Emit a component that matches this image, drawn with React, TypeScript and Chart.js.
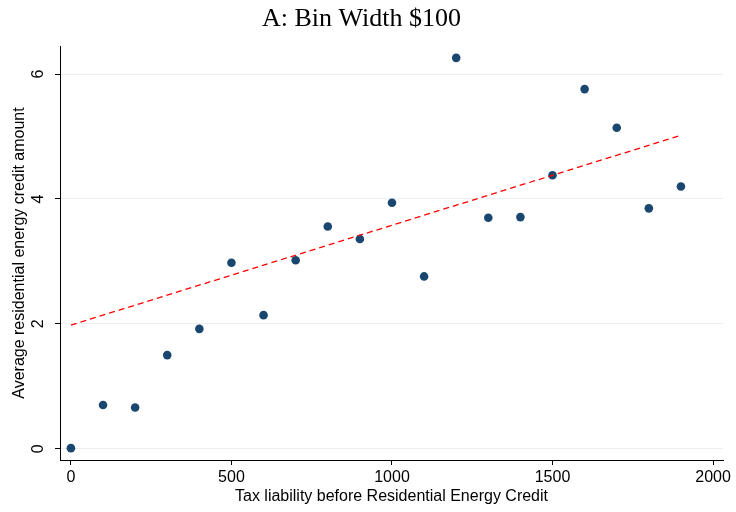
import React, { useEffect, useRef } from "react";
import { Chart, registerables } from "chart.js";

Chart.register(...registerables);

const binX = [0, 100, 200, 300, 400, 500, 600, 700, 800, 900, 1000, 1100, 1200, 1300, 1400, 1500, 1600, 1700, 1800, 1900];
const avgCredit = [0.01, 0.7, 0.66, 1.5, 1.92, 2.98, 2.14, 3.02, 3.56, 3.36, 3.94, 2.76, 6.26, 3.7, 3.71, 4.38, 5.76, 5.14, 3.85, 4.2];
const fitX = [0, 1900];
const fitY = [1.98, 5.02];
const xTicks = [0, 500, 1000, 1500, 2000];
const yTicks = [0, 2, 4, 6];

const titleText = "A: Bin Width $100";
const xTitle = "Tax liability before Residential Energy Credit";
const yTitle = "Average residential energy credit amount";

const rotatedYTicks = {
  id: "rotatedYTicks",
  afterDraw(chart: any) {
    const ys = chart.scales.y;
    const ctx = chart.ctx;
    ctx.save();
    ctx.fillStyle = "#000";
    ctx.font = '16px "Liberation Sans", Arial, sans-serif';
    ctx.textAlign = "center";
    ctx.textBaseline = "middle";
    for (const t of ys.ticks) {
      const py = ys.getPixelForValue(t.value);
      ctx.save();
      ctx.translate(39, py);
      ctx.rotate(-Math.PI / 2);
      ctx.fillText(String(t.value), 0, 0);
      ctx.restore();
    }
    ctx.restore();
  },
};

export default function App() {
  const ref = useRef<HTMLCanvasElement | null>(null);
  useEffect(() => {
    if (!ref.current) return;
    const chart = new Chart(ref.current, {
      type: "scatter",
      data: {
        datasets: [
          {
            type: "line",
            data: fitX.map((x, i) => ({ x, y: fitY[i] })),
            borderColor: "#ff0000",
            borderWidth: 1.3,
            borderDash: [6, 4],
            pointRadius: 0,
            fill: false,
          } as any,
          {
            data: binX.map((x, i) => ({ x, y: avgCredit[i] })),
            backgroundColor: "#1a476f",
            borderColor: "#1a476f",
            pointRadius: 4.3,
            borderWidth: 0,
          },
        ],
      },
      options: {
        animation: false,
        responsive: true,
        maintainAspectRatio: false,
        layout: { padding: { right: 13, left: 0, top: 0, bottom: 0 } },
        plugins: {
          legend: { display: false },
          tooltip: { enabled: false },
          title: {
            display: true,
            text: titleText,
            color: "#000",
            font: { family: '"Liberation Serif", "Times New Roman", serif', size: 26, weight: "normal" as any, lineHeight: 1.0 },
            padding: { top: 6, bottom: 14 },
          },
        },
        scales: {
          x: {
            type: "linear",
            min: -34,
            max: 2031,
            afterBuildTicks: (s: any) => {
              s.ticks = xTicks.map((v) => ({ value: v }));
            },
            afterFit: (s: any) => {
              s.height = 52;
            },
            grid: { drawOnChartArea: false, drawTicks: true, tickLength: 5, tickColor: "#000" },
            border: { display: true, color: "#000", width: 1 },
            ticks: {
              color: "#000",
              padding: 3,
              maxRotation: 0,
              callback: (v: any) => String(v),
              font: { family: '"Liberation Sans", Arial, sans-serif', size: 16 },
            },
            title: {
              display: true,
              text: xTitle,
              color: "#000",
              font: { family: '"Liberation Sans", Arial, sans-serif', size: 16, lineHeight: 1.2 },
              padding: { top: 0, bottom: 6 },
            },
          },
          y: {
            type: "linear",
            min: -0.18,
            max: 6.45,
            afterBuildTicks: (s: any) => {
              s.ticks = yTicks.map((v) => ({ value: v }));
            },
            afterFit: (s: any) => {
              s.width = 60;
            },
            grid: { drawOnChartArea: true, color: "#eaf0f2", lineWidth: 1, drawTicks: true, tickLength: 5, tickColor: "#000" },
            border: { display: true, color: "#000", width: 1 },
            ticks: {
              color: "rgba(0,0,0,0)",
              font: { family: '"Liberation Sans", Arial, sans-serif', size: 16 },
            },
            title: {
              display: true,
              text: yTitle,
              color: "#000",
              font: { family: '"Liberation Sans", Arial, sans-serif', size: 16, lineHeight: 1.2 },
              padding: { top: 10, bottom: 0 },
            },
          },
        },
      },
      plugins: [rotatedYTicks],
    });
    return () => chart.destroy();
  }, []);
  return (
    <div style={{ position: "fixed", left: 0, top: 0, width: 736, height: 512, background: "#fff" }}>
      <canvas ref={ref} />
    </div>
  );
}
